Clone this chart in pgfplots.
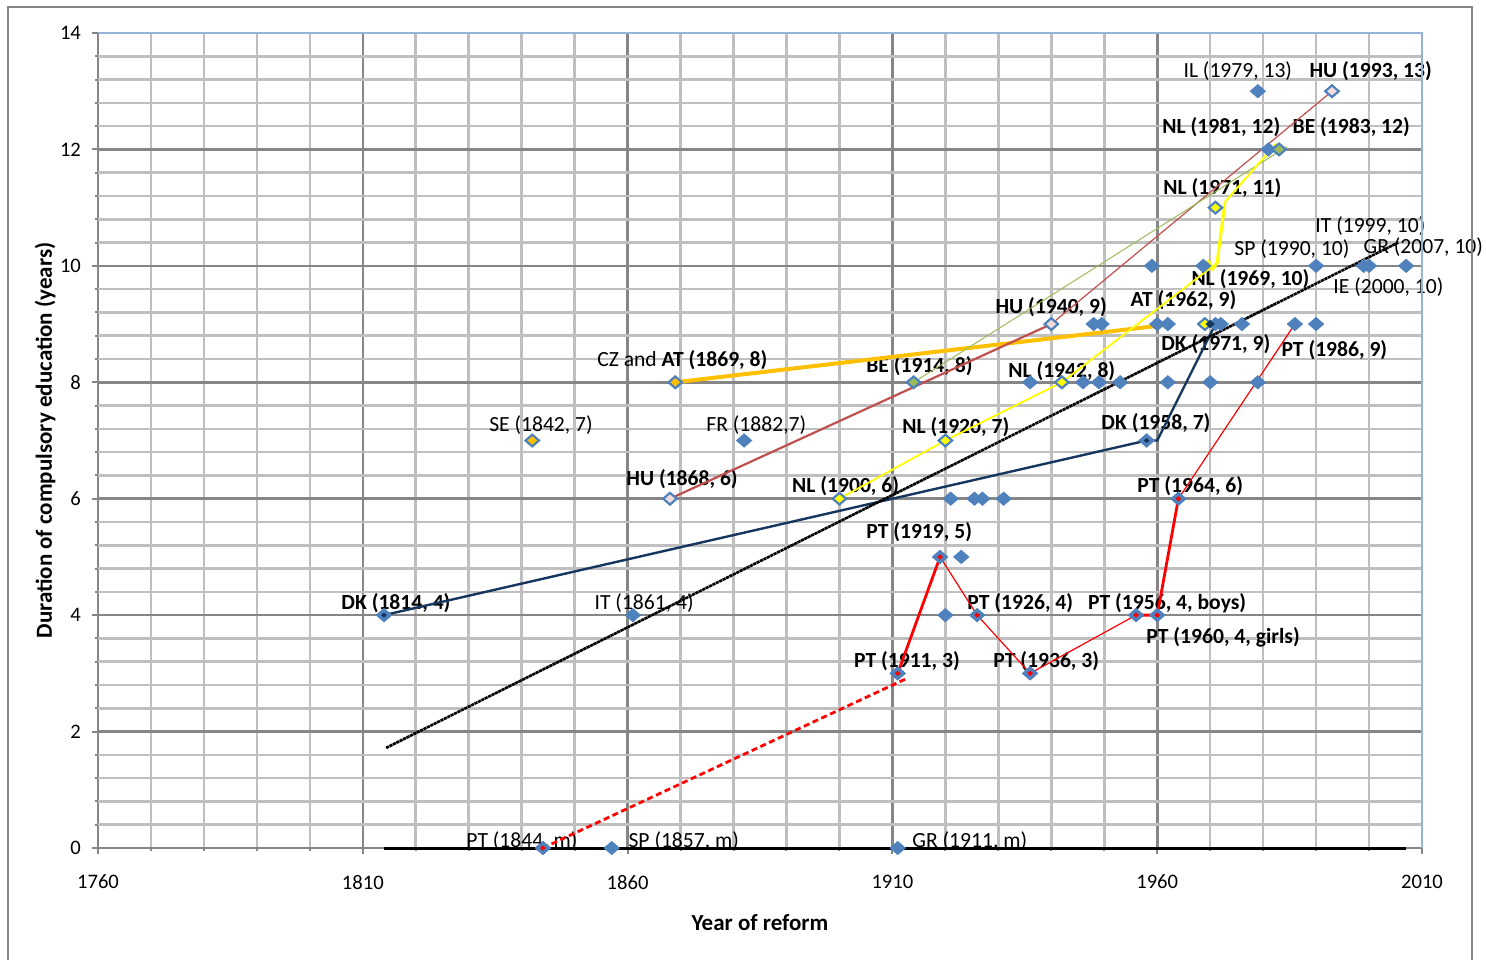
\documentclass[border=0pt]{standalone}
\usepackage{fontspec}
\setmainfont{Carlito}
\usepackage{pgfplots}
\pgfplotsset{compat=1.18}
\usepackage{pgfplotstable}

\definecolor{xlblue}{RGB}{79,129,189}
\definecolor{xlnavy}{RGB}{23,54,93}
\definecolor{xlorange}{RGB}{255,192,0}
\definecolor{xlbrown}{RGB}{192,80,77}
\definecolor{xlgreen}{RGB}{155,187,89}
\definecolor{xlpink}{RGB}{242,220,219}
\definecolor{xlyellow}{RGB}{255,255,0}
\definecolor{gridmaj}{RGB}{134,134,134}
\definecolor{gridmin}{RGB}{191,191,191}
\definecolor{edgeblue}{RGB}{149,179,215}

% flat diamond, a bit wider than tall
\pgfdeclareplotmark{xdia}{%
  \pgfpathmoveto{\pgfqpoint{0pt}{0.87\pgfplotmarksize}}%
  \pgfpathlineto{\pgfqpoint{\pgfplotmarksize}{0pt}}%
  \pgfpathlineto{\pgfqpoint{0pt}{-0.87\pgfplotmarksize}}%
  \pgfpathlineto{\pgfqpoint{-\pgfplotmarksize}{0pt}}%
  \pgfpathclose
  \pgfusepathqfillstroke}

% all reforms: year, years of compulsory education (m = 0)
\pgfplotstableread{
year dur
1844 0
1857 0
1911 0
1911 3
1936 3
1814 4
1861 4
1920 4
1926 4
1956 4
1960 4
1919 5
1923 5
1868 6
1900 6
1921 6
1925.5 6
1927 6
1931 6
1964 6
1842 7
1882 7
1920 7
1958 7
1869 8
1914 8
1936 8
1942 8
1946 8
1949 8
1953 8
1962 8
1970 8
1979 8
1940 9
1948 9
1949.5 9
1960 9
1962 9
1969 9
1971 9
1972 9
1976 9
1986 9
1990 9
1959 10
1968.7 10
1990 10
1999 10
2000 10
2007 10
1971 11
1981 12
1983 12
1979 13
1993 13
}\allreforms

\newcommand{\lab}[3]{\node[anchor=west,inner sep=0pt,font=\fontsize{10.8}{12}\selectfont] at (axis cs:#1,#2) {#3};}
\newcommand{\blab}[3]{\node[anchor=west,inner sep=0pt,font=\fontsize{10.8}{12}\selectfont\bfseries] at (axis cs:#1,#2) {#3};}

\begin{document}
\begin{tikzpicture}
\begin{axis}[
    at={(49pt,55.5pt)}, anchor=south west,
    scale only axis, width=662pt, height=407.5pt,
    xmin=1760, xmax=2010, ymin=0, ymax=14,
    xtick={1760,1810,...,2010}, ytick={0,2,...,14},
    minor x tick num=4, minor y tick num=4,
    grid=both,
    major grid style={gridmaj, line width=1.3pt},
    minor grid style={gridmin, line width=1.3pt},
    axis line style={draw=none},
    tick align=outside, xtick pos=bottom, ytick pos=left,
    major tick length=3pt, minor tick length=1.5pt,
    tick style={gridmaj, line width=1pt},
    /pgf/number format/1000 sep={},
    /pgf/number format/assume math mode=true,
    tick label style={font=\fontsize{10.3}{12}\selectfont},
    xticklabel style={yshift=-7pt},
    yticklabel style={xshift=-2pt},
    xlabel={\textbf{Year of reform}},
    xlabel style={at={(axis description cs:0.5,-0.091)}, anchor=center, font=\fontsize{11.5}{13}\selectfont},
    ylabel={\textbf{Duration of compulsory education (years)}},
    ylabel style={at={(axis description cs:-0.040,0.50)}, anchor=center, font=\fontsize{11.5}{13}\selectfont},
    clip=false,
]
% text labels
\blab{1964.9}{13.35}{\mdseries IL (1979, 13)}
\blab{1988.7}{13.35}{HU (1993, 13)}
\blab{1960.9}{12.39}{NL (1981, 12)}
\blab{1985.5}{12.39}{BE (1983, 12)}
\blab{1961.1}{11.34}{NL (1971, 11)}
\lab{1989.8}{10.69}{IT (1999, 10)}
\lab{1974.5}{10.29}{SP (1990, 10)}
\lab{1998.9}{10.33}{GR (2007, 10)}
\blab{1966.4}{9.78}{NL (1969, 10)}
\lab{1993.2}{9.64}{IE (2000, 10)}
\blab{1929.4}{9.29}{HU (1940, 9)}
\blab{1954.9}{9.41}{AT (1962, 9)}
\blab{1960.7}{8.66}{DK (1971, 9)}
\blab{1983.4}{8.56}{PT (1986, 9)}
\lab{1854.2}{8.38}{CZ and \textbf{AT (1869, 8)}}
\blab{1905.0}{8.28}{BE (1914, 8)}
\blab{1931.8}{8.19}{NL (1942, 8)}
\lab{1833.8}{7.27}{SE (1842, 7)}
\lab{1874.8}{7.27}{FR (1882,7)}
\blab{1911.8}{7.23}{NL (1920, 7)}
\blab{1949.4}{7.30}{DK (1958, 7)}
\blab{1859.7}{6.34}{HU (1868, 6)}
\blab{1891.0}{6.22}{NL (1900, 6)}
\blab{1956.2}{6.22}{PT (1964, 6)}
\blab{1905.0}{5.43}{PT (1919, 5)}
\blab{1805.9}{4.21}{DK (1814, 4)}
\lab{1853.7}{4.21}{IT (1861, 4)}
\blab{1924.1}{4.21}{PT (1926, 4)}
\blab{1946.9}{4.21}{PT (1956, 4, boys)}
\blab{1957.9}{3.62}{PT (1960, 4, girls)}
\blab{1902.7}{3.21}{PT (1911, 3)}
\blab{1929.0}{3.21}{PT (1936, 3)}
\lab{1829.5}{0.12}{PT (1844, m)}
\lab{1860.1}{0.12}{SP (1857, m)}
\lab{1913.7}{0.12}{GR (1911, m)}

% country paths
\addplot[black, line width=1.5pt] coordinates {(1814,0) (2007,0)};
\addplot[xlnavy, line width=1.2pt] coordinates {(1814,4) (1958,7) (1960,7) (1971,9)};
\addplot[xlorange, line width=2pt] coordinates {(1869,8) (1963,9)};
\addplot[xlbrown, line width=1.1pt] coordinates {(1868,6) (1940,9)};
\addplot[xlbrown, line width=0.6pt] coordinates {(1940,9) (1993,13)};
\addplot[xlgreen, line width=0.5pt] coordinates {(1914,8) (1984.5,12.05)};
\addplot[xlyellow, line width=0.9pt] coordinates {(1900,6) (1920,7) (1942,8) (1971.3,10.05)};
\addplot[xlyellow, line width=1.5pt] coordinates {(1969.5,10.1) (1970.5,9.95) (1971.3,10.05) (1972.8,11.1)};
\addplot[xlyellow, line width=1pt] coordinates {(1972.8,11.1) (1982.5,12.1)};
\addplot[red, line width=1.4pt, dash pattern=on 3pt off 1.8pt] coordinates {(1844,0) (1912.4,2.9)};
\addplot[red, line width=1.4pt] coordinates {(1911,3) (1919,5)};
\addplot[red, line width=0.6pt] coordinates {(1919,5) (1926,4) (1936,3) (1956,4)};
\addplot[red, line width=1.4pt] coordinates {(1956,4) (1960,4) (1964,6)};
\addplot[red, line width=0.6pt] coordinates {(1964,6) (1986,9)};

% markers
\addplot[only marks, mark=xdia, mark size=3.8pt, mark options={fill=xlblue, draw=xlblue, line width=0.4pt}] table[x=year, y=dur] {\allreforms};
\addplot[only marks, mark=xdia, mark size=3.3pt, mark options={fill=xlyellow, draw=xlblue, line width=1pt}] coordinates {(1900,6) (1920,7) (1942,8) (1969,9) (1971,11)};
\addplot[only marks, mark=xdia, mark size=3.3pt, mark options={fill=xlorange, draw=xlblue, line width=1pt}] coordinates {(1842,7) (1869,8)};
\addplot[only marks, mark=xdia, mark size=3.3pt, mark options={fill=xlpink, draw=xlblue, line width=1pt}] coordinates {(1868,6) (1940,9) (1993,13)};
\addplot[only marks, mark=xdia, mark size=3.3pt, mark options={fill=xlgreen, draw=xlblue, line width=1pt}] coordinates {(1914,8) (1983,12)};
\addplot[only marks, mark=xdia, mark size=2.8pt, mark options={fill=red, draw=xlblue, line width=1.6pt}] coordinates {(1844,0) (1911,3) (1919,5) (1926,4) (1936,3) (1956,4) (1960,4) (1964,6)};
\addplot[only marks, mark=xdia, mark size=2.8pt, mark options={fill=xlnavy, draw=xlblue, line width=1.6pt}] coordinates {(1814,4) (1958,7)};
\addplot[only marks, mark=xdia, mark size=2pt, mark options={fill=xlnavy, draw=xlnavy}] coordinates {(1970,9)};

% linear trend
\addplot[black, line width=1.3pt, dash pattern=on 1.6pt off 0.3pt] coordinates {(1814.4,1.72) (2005.5,10.4)};

% plot area edge
\draw[edgeblue, line width=0.8pt] (rel axis cs:0,1) -- (rel axis cs:1,1) -- (rel axis cs:1,0);
\end{axis}
\draw[gridmaj, line width=1pt] (4pt,-3pt) -- (4pt,476pt) -- (736pt,476pt) -- (736pt,-3pt);
\pgfresetboundingbox
\path[use as bounding box] (0,0) rectangle (743pt,479.5pt);
\end{tikzpicture}
\end{document}
